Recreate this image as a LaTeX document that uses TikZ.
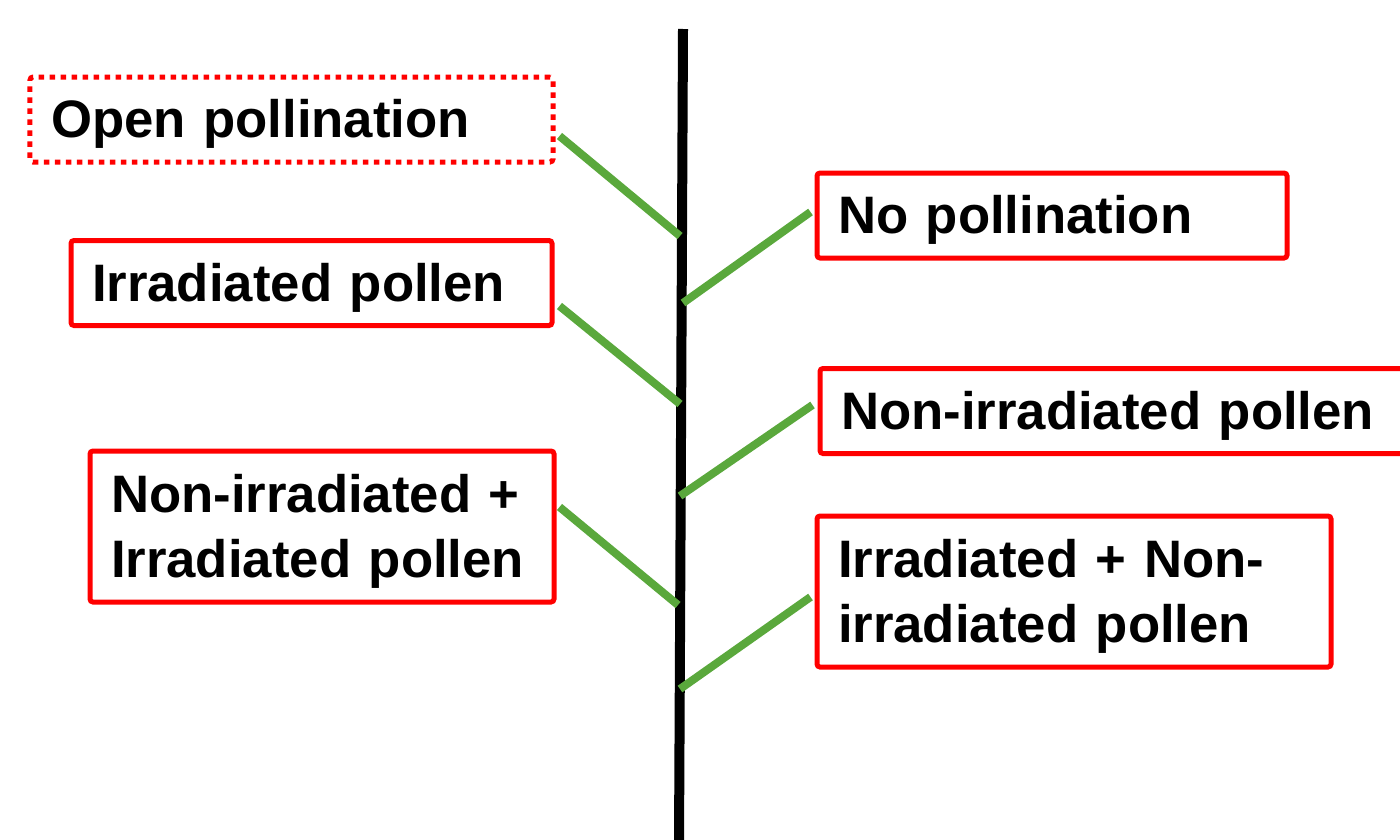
\documentclass[tikz,border=0pt]{standalone}
\usepackage{fontspec}
\setmainfont{Liberation Sans}
\definecolor{stemgreen}{RGB}{90,168,60}
\begin{document}
\begin{tikzpicture}[
    tagbox/.style = {rectangle, draw=red, line width=0.5mm, rounded corners=0.3mm, inner xsep=2.1mm, align=left, font=\fontsize{15}{18.5}\selectfont\bfseries},
    onebox/.style = {tagbox, minimum height=0.85cm, text height=0.40cm, text depth=0.04cm},
    twobox/.style = {tagbox, minimum height=1.51cm, text depth=0.67cm},
    openbox/.style = {onebox, dash pattern=on 0.55mm off 0.55mm},
    branch/.style = {draw=stemgreen, line width=0.8mm},
    stem/.style = {draw=black, line width=1mm}
]
    \clip (0,0) rectangle (14,8.39);

    % Nodes - left side
    \node [openbox, text width=4.81cm] (open) at (2.915, 7.195) {Open pollination};
    \node [onebox, text width=4.39cm] (irr) at (3.115, 5.56) {Irradiated pollen};
    \node [twobox, text width=4.22cm] (nonirr) at (3.22, 3.125) {Non-irradiated +\\Irradiated pollen};

    % Nodes - right side
    \node [onebox, text width=4.28cm] (nopoll) at (10.52, 6.235) {No pollination};
    \node [onebox, text width=5.48cm] (nonpoll) at (11.15, 4.28) {Non-irradiated pollen};
    \node [twobox, text width=4.72cm] (irrnon) at (10.74, 2.475) {Irradiated + Non-\\irradiated pollen};

    % Stem and joints
    \coordinate (stemtop) at (6.83, 8.10);
    \coordinate (stembot) at (6.79, -0.05);
    \coordinate (j1) at (6.80, 6.03);
    \coordinate (j2) at (6.83, 5.36);
    \coordinate (j3) at (6.80, 4.35);
    \coordinate (j4) at (6.80, 3.43);
    \coordinate (j5) at (6.78, 2.34);
    \coordinate (j6) at (6.80, 1.50);

    % Edges
    \path [stem] (stemtop) -- (stembot);

    \path [branch] ([xshift=0.4mm, yshift=-1.65mm]open.east) -- (j1);
    \path [branch] ([xshift=-0.4mm, yshift=0.35mm]nopoll.west) -- (j2);
    \path [branch] ([xshift=0.5mm, yshift=-2.3mm]irr.east) -- (j3);
    \path [branch] ([xshift=-0.5mm, yshift=0.6mm]nonpoll.west) -- (j4);
    \path [branch] ([xshift=0.3mm, yshift=1.95mm]nonirr.east) -- (j5);
    \path [branch] ([xshift=-0.4mm, yshift=-0.55mm]irrnon.west) -- (j6);

\end{tikzpicture}
\end{document}
